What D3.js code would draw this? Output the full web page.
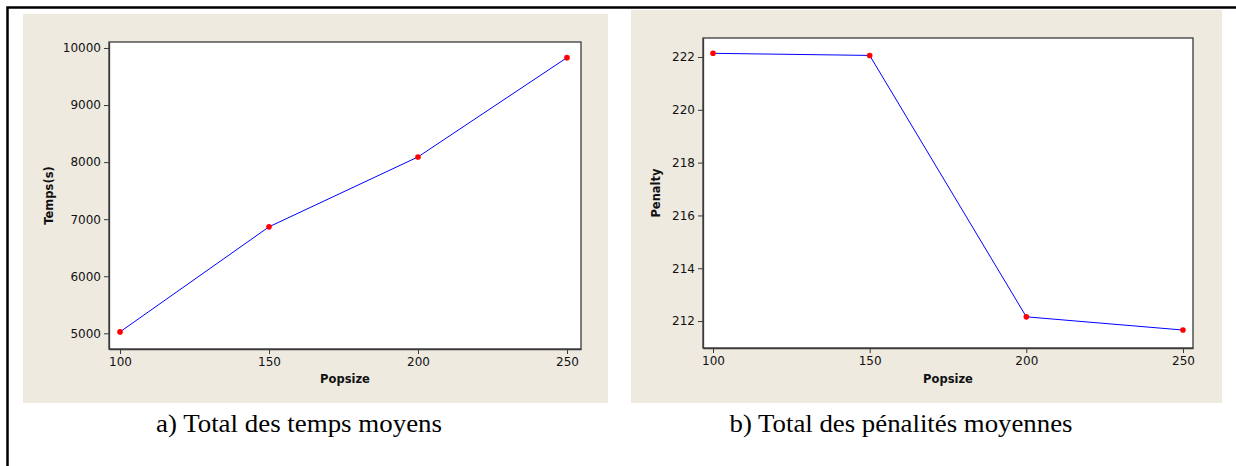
<!DOCTYPE html>
<html>
<head>
<meta charset="utf-8">
<script src="https://cdn.jsdelivr.net/npm/d3@7"></script>
<style>
  body { margin: 0; background: #fff; }
  .tick text { font-family: "DejaVu Sans", sans-serif; font-size: 12px; fill: #111; }
  .axis-title { font-family: "DejaVu Sans", sans-serif; font-size: 11.5px; font-weight: bold; fill: #111; }
  .caption { font-family: "Liberation Serif", "Times New Roman", serif; font-size: 25px; fill: #000; }
</style>
</head>
<body>
<script>

// Data
var popsize = [100, 150, 200, 250];
var temps = [5025, 6866, 8091, 9831];
var penalty = [222.14, 222.06, 212.16, 211.66];

var tempsTicks = [5000, 6000, 7000, 8000, 9000, 10000];
var penaltyTicks = [212, 214, 216, 218, 220, 222];
var popsizeTicks = [100, 150, 200, 250];

var w = 1236;
var h = 466;

var svg = d3.select("body")
            .append("svg")
            .attr("width", w)
            .attr("height", h);

// outer frame of the page (only top and left show)
svg.append("path")
   .attr("d", "M7.5," + h + "V7.5H" + w)
   .attr("fill", "none")
   .attr("stroke", "#000")
   .attr("stroke-width", 2.5);

function drawPanel(p) {

  // beige background
  svg.append("rect")
     .attr("x", p.bg[0])
     .attr("y", p.bg[1])
     .attr("width", p.bg[2])
     .attr("height", p.bg[3])
     .attr("fill", "#eeeae0");

  var xScale = d3.scaleLinear()
                 .domain(p.xDomain)
                 .range([p.left, p.right]);

  var yScale = d3.scaleLinear()
                 .domain(p.yDomain)
                 .range([p.bottom, p.top]);

  // white plot area with frame
  svg.append("rect")
     .attr("x", p.left)
     .attr("y", p.top)
     .attr("width", p.right - p.left)
     .attr("height", p.bottom - p.top)
     .attr("fill", "#fff")
     .attr("stroke", "#3a3a3a")
     .attr("stroke-width", 1.3);

  // axes
  var xAxis = svg.append("g")
                 .attr("transform", `translate(0, ${p.bottom})`)
                 .call(d3.axisBottom(xScale).tickValues(p.xTicks).tickFormat(d3.format("d"))
                         .tickSize(5).tickPadding(3).tickSizeOuter(0));

  var yAxis = svg.append("g")
                 .attr("transform", `translate(${p.left}, 0)`)
                 .call(d3.axisLeft(yScale).tickValues(p.yTicks).tickFormat(d3.format("d"))
                         .tickSize(5).tickPadding(3).tickSizeOuter(0));

  [xAxis, yAxis].forEach(function(a){
    a.select(".domain").attr("stroke", "#3a3a3a").attr("stroke-width", 1.3);
    a.selectAll(".tick line").attr("stroke", "#3a3a3a");
  });

  // the line and its points
  var points = p.x.map(function(d, i){ return {x: d, y: p.y[i]}; });

  var line = d3.line()
               .x(d => xScale(d.x))
               .y(d => yScale(d.y));

  svg.append("path")
     .datum(points)
     .attr("d", line)
     .attr("fill", "none")
     .attr("stroke", "#0000ff")
     .attr("stroke-width", 1);

  svg.selectAll(null)
     .data(points)
     .enter()
     .append("circle")
     .attr("cx", d => xScale(d.x))
     .attr("cy", d => yScale(d.y))
     .attr("r", 2.8)
     .attr("fill", "#ff0000");

  // axis titles
  svg.append("text")
     .attr("class", "axis-title")
     .attr("x", (p.left + p.right) / 2)
     .attr("y", 383)
     .attr("text-anchor", "middle")
     .text("Popsize");

  svg.append("text")
     .attr("class", "axis-title")
     .attr("transform", `translate(${p.yTitleX}, ${(p.top + p.bottom) / 2}) rotate(-90)`)
     .attr("text-anchor", "middle")
     .text(p.yTitle);

  // caption under the panel
  svg.append("text")
     .attr("class", "caption")
     .attr("x", p.captionX)
     .attr("y", 432)
     .attr("text-anchor", "middle")
     .attr("textLength", p.captionW)
     .attr("lengthAdjust", "spacingAndGlyphs")
     .text(p.caption);
}

drawPanel({
  bg: [23, 14, 585, 389],
  left: 109, right: 581, top: 42, bottom: 349,
  xDomain: [96.3, 254.7], yDomain: [4725, 10105],
  xTicks: popsizeTicks, yTicks: tempsTicks,
  x: popsize, y: temps,
  yTitle: "Temps(s)", yTitleX: 53,
  caption: "a) Total des temps moyens", captionX: 299, captionW: 286
});

drawPanel({
  bg: [631, 10, 591, 393],
  left: 703, right: 1193, top: 38, bottom: 348,
  xDomain: [96.8, 253.2], yDomain: [210.98, 222.72],
  xTicks: popsizeTicks, yTicks: penaltyTicks,
  x: popsize, y: penalty,
  yTitle: "Penalty", yTitleX: 660,
  caption: "b) Total des pénalités moyennes", captionX: 901, captionW: 343
});

</script>
</body>
</html>
